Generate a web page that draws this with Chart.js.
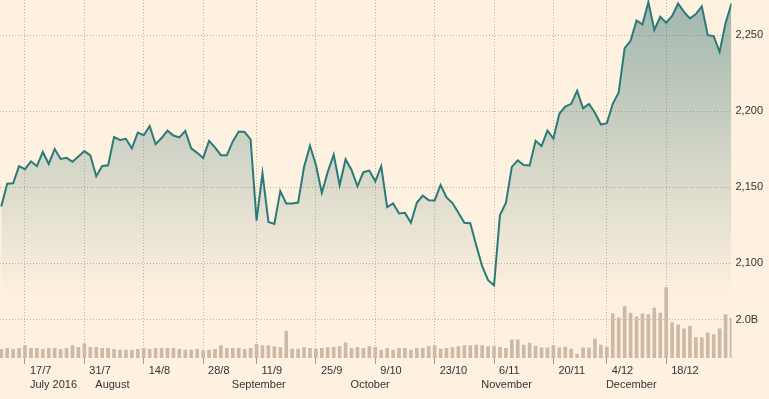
<!DOCTYPE html>
<html>
<head>
<meta charset="utf-8">
<script src="https://cdn.jsdelivr.net/npm/chart.js@4.4.1/dist/chart.umd.min.js"></script>
<style>
  html, body { margin: 0; padding: 0; background: #fff1e0; }
</style>
</head>
<body>
<canvas id="chart" width="769" height="399"></canvas>
<script>
// Daily closes, 11 Jul 2016 .. 4 Jan 2017 (one value per trading day)
const closes = [
  2137.16, 2152.14, 2152.43, 2163.75, 2161.74,
  2166.89, 2163.78, 2173.02, 2165.17, 2175.03,
  2168.48, 2169.18, 2166.58, 2170.06, 2173.60,
  2170.84, 2157.03, 2163.79, 2164.25, 2182.87,
  2180.89, 2181.74, 2175.49, 2185.79, 2184.05,
  2190.15, 2178.15, 2182.22, 2187.02, 2183.87,
  2182.64, 2186.90, 2175.44, 2172.47, 2169.04,
  2180.38, 2176.12, 2170.95, 2170.86, 2179.98,
  2186.48, 2186.16, 2181.30, 2127.81,
  2159.04, 2127.02, 2125.77, 2147.26, 2139.16,
  2139.12, 2139.76, 2163.12, 2177.18, 2164.69,
  2146.10, 2159.93, 2171.37, 2151.13, 2168.27,
  2161.20, 2150.49, 2159.73, 2160.77, 2153.74,
  2163.66, 2136.73, 2139.18, 2132.55, 2132.98,
  2126.50, 2139.60, 2144.29, 2141.34, 2141.16,
  2151.33, 2143.16, 2139.43, 2133.04, 2126.41,
  2126.15, 2111.72, 2097.94, 2088.66, 2085.18,
  2131.52, 2139.56, 2163.26, 2167.48, 2164.45,
  2164.20, 2180.39, 2176.94, 2187.12, 2181.90,
  2198.18, 2202.94, 2204.72, 2213.35,
  2201.72, 2204.66, 2198.81, 2191.08, 2191.95,
  2204.71, 2212.23, 2241.35, 2246.19, 2259.53,
  2256.96, 2271.72, 2253.28, 2262.03, 2258.07,
  2262.53, 2270.76, 2265.18, 2260.96, 2263.79,
  2268.88, 2249.92, 2249.26, 2238.83,
  2257.83, 2270.75
];

// Volume, billions
const volumes = [
  0.46, 0.51, 0.46, 0.51, 0.65, 0.51, 0.51, 0.46, 0.51, 0.51,
  0.46, 0.51, 0.65, 0.56, 0.74, 0.56, 0.56, 0.51, 0.51, 0.46,
  0.42, 0.42, 0.42, 0.46, 0.51, 0.46, 0.51, 0.51, 0.51, 0.51,
  0.46, 0.42, 0.42, 0.46, 0.39, 0.42, 0.46, 0.65, 0.51, 0.51,
  0.51, 0.46, 0.51, 0.72,
  0.65, 0.65, 0.60, 0.55, 1.42, 0.47, 0.47, 0.55, 0.51, 0.47,
  0.51, 0.55, 0.56, 0.60, 0.80, 0.51, 0.56, 0.51, 0.60, 0.56,
  0.42, 0.51, 0.42, 0.51, 0.51, 0.42, 0.51, 0.51, 0.60, 0.65,
  0.47, 0.51, 0.55, 0.60, 0.65, 0.65, 0.68, 0.65, 0.60, 0.60,
  0.56, 0.51, 0.95, 0.95, 0.68, 0.79, 0.63, 0.53, 0.53, 0.65,
  0.54, 0.58, 0.47, 0.21, 0.53, 0.53, 1.00, 0.68, 0.58,
  2.33, 2.12, 2.70, 2.37, 2.17, 2.33, 2.28, 2.63, 2.37, 3.70,
  1.86, 1.75, 1.54, 1.68, 1.07, 1.07, 1.33, 1.23, 1.54,
  2.28, 2.09
];

// Weekly ticks (placed on the last trading day before each Sunday)
const tickIdx    = [4, 14, 24, 34, 43, 53, 63, 73, 83, 93, 102, 112];
const tickLabels = ['17/7', '31/7', '14/8', '28/8', '11/9', '25/9', '9/10', '23/10', '6/11', '20/11', '4/12', '18/12'];

const monthIdx    = [4, 15, 38, 58, 80, 101];
const monthLabels = ['July 2016', 'August', 'September', 'October', 'November', 'December'];

const priceTicks  = [2100, 2150, 2200, 2250];
const volumeTicks = [2.0];

const bgColor = '#fff1e0';
const textColor = '#333333';
const gridColor = 'rgba(150, 130, 110, 0.55)';
const font = { family: "'Liberation Sans', Arial, sans-serif", size: 11 };

function areaGradient(context) {
    const { ctx, chartArea } = context.chart;
    if (!chartArea) return 'rgba(0,0,0,0)';
    const g = ctx.createLinearGradient(0, chartArea.top, 0, chartArea.top + 300);
    g.addColorStop(0, 'rgba(38, 106, 104, 0.43)');
    g.addColorStop(1, 'rgba(38, 106, 104, 0)');
    return g;
}

// keep the plot area flush with the canvas edges
function noPadding(s) {
    s.paddingTop = 0;
    s.paddingBottom = 0;
    s.paddingLeft = 0;
    s.paddingRight = 0;
}

const background = {
    id: 'background',
    beforeDraw(chart) {
        const c = chart.ctx;
        c.save();
        c.fillStyle = bgColor;
        c.fillRect(0, 0, chart.width, chart.height);
        c.restore();
    }
};

// the volume axis takes no room of its own, but its labels share the price column
const shareColumn = {
    id: 'shareColumn',
    afterLayout(chart) {
        const v = chart.scales.v;
        v.right = chart.width;
        v.width = v.right - v.left;
    }
};

const months = {
    id: 'months',
    afterDraw(chart) {
        const c = chart.ctx;
        const x = chart.scales.x;
        c.save();
        c.font = font.size + 'px ' + font.family;
        c.fillStyle = textColor;
        c.textAlign = 'left';
        c.textBaseline = 'middle';
        monthLabels.forEach((m, i) => {
            c.fillText(m, x.getPixelForValue(monthIdx[i]) + 5, x.bottom - 14);
        });
        c.restore();
    }
};

new Chart(document.getElementById('chart'), {
    type: 'line',
    data: {
        datasets: [{
            type: 'line',
            data: closes.map((v, i) => ({ x: i, y: v })),
            yAxisID: 'y',
            borderColor: '#2a7a7a',
            borderWidth: 2,
            pointRadius: 0,
            tension: 0,
            fill: 'start',
            backgroundColor: areaGradient,
            order: 0
        }, {
            type: 'bar',
            data: volumes.map((v, i) => ({ x: i, y: v })),
            yAxisID: 'v',
            backgroundColor: '#cdb9a4',
            barThickness: 3,
            order: 1
        }]
    },
    options: {
        responsive: false,
        animation: false,
        layout: { padding: 0 },
        plugins: { legend: { display: false }, tooltip: { enabled: false } },
        scales: {
            x: {
                type: 'linear',
                min: -0.21,
                max: 123,
                offset: false,
                afterBuildTicks: s => { s.ticks = tickIdx.map(v => ({ value: v })); },
                afterFit: s => { s.height = 41; noPadding(s); },
                ticks: {
                    autoSkip: false,
                    maxRotation: 0,
                    align: 'start',
                    labelOffset: 5,
                    padding: 0,
                    color: textColor,
                    font: font,
                    callback: (v, i) => tickLabels[i]
                },
                grid: {
                    offset: false,
                    color: gridColor,
                    tickLength: 6,
                    tickColor: '#a8998a',
                    tickBorderDash: [],
                    tickWidth: 1
                },
                border: { display: false, dash: [1, 2] }
            },
            v: {
                position: 'right',
                weight: 0,
                min: 0,
                max: 18.84,
                afterBuildTicks: s => { s.ticks = volumeTicks.map(v => ({ value: v })); },
                afterFit: s => { s.width = 0; noPadding(s); },
                ticks: {
                    padding: 4,
                    color: textColor,
                    font: font,
                    callback: v => v.toFixed(1) + 'B'
                },
                grid: { color: gridColor, drawTicks: false },
                border: { display: false, dash: [1, 2] }
            },
            y: {
                position: 'right',
                weight: 1,
                min: 2037.5,
                max: 2273.03,
                afterBuildTicks: s => { s.ticks = priceTicks.map(v => ({ value: v })); },
                afterFit: s => { s.width = 37.5; noPadding(s); },
                ticks: {
                    padding: 4,
                    color: textColor,
                    font: font,
                    callback: v => v.toLocaleString('en-US')
                },
                grid: { color: gridColor, drawTicks: false },
                border: { display: false, dash: [1, 2] }
            }
        }
    },
    plugins: [background, shareColumn, months]
});
</script>
</body>
</html>
